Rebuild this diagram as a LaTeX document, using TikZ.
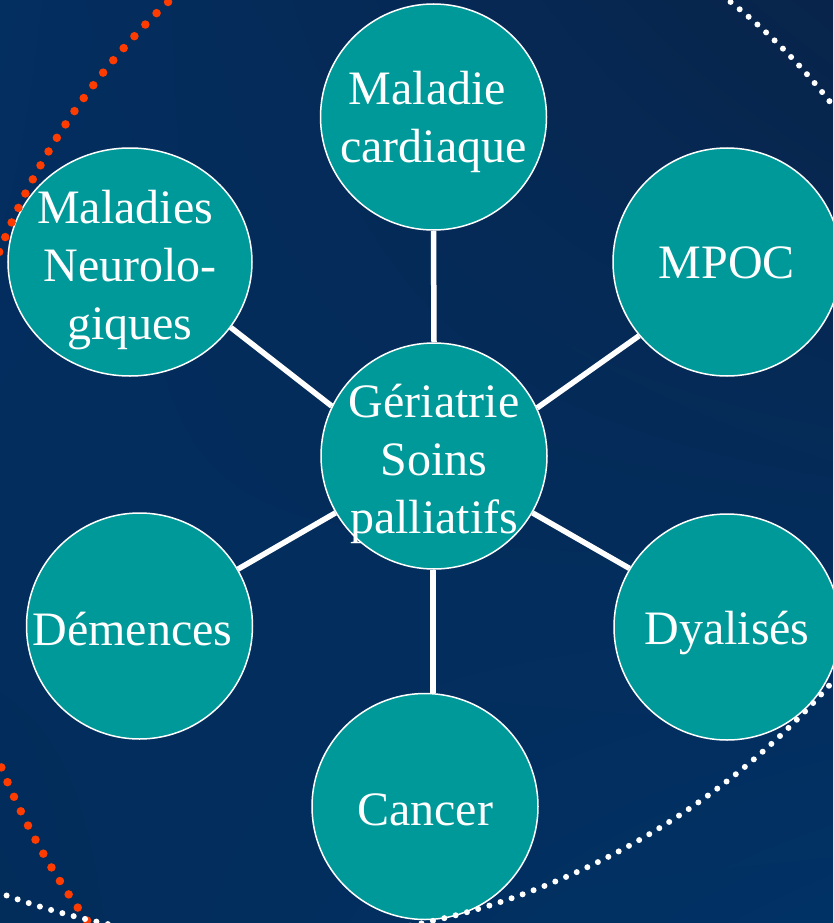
\documentclass[tikz,border=0pt]{standalone}
\usepackage{fontspec}
\setmainfont{Liberation Serif}
\usetikzlibrary{shapes.geometric,shadings}
\definecolor{tealfill}{HTML}{009999}
\definecolor{bgUL}{HTML}{032E60}
\definecolor{bgUR}{HTML}{08244A}
\definecolor{bgLL}{HTML}{022C5A}
\definecolor{bgLR}{HTML}{013266}
\definecolor{dotred}{HTML}{FF3C00}
\pgfdeclarelayer{back}
\pgfdeclarelayer{links}
\pgfsetlayers{back,links,main}
\begin{document}
\begin{tikzpicture}[x=1pt,y=-1pt,
  bubble/.style={circle, draw=white, line width=1.5pt, fill=tealfill, minimum size=226pt, inner sep=0pt},
  txt/.style={text=white, font=\fontsize{48}{58}\selectfont, align=center, inner sep=0pt},
  link/.style={draw=white, line width=5.5pt},
  reddots/.style={draw=dotred, line width=8.5pt, line cap=round, dash pattern=on 0pt off 16pt},
  whitedots/.style={draw=white, line width=6pt, line cap=round, dash pattern=on 0pt off 11.7pt}]
\useasboundingbox (0,0) rectangle (833,923);
\clip (0,0) rectangle (833,923);
\begin{pgfonlayer}{back}
\shade[upper left=bgUL, upper right=bgUR, lower left=bgLL, lower right=bgLR] (0,0) rectangle (833,923);
\end{pgfonlayer}

% bubbles
\node[bubble] (c0) at (434,456) {};
\node[bubble] (c1) at (433.5,117) {};
\node[bubble, minimum size=228pt] (c2) at (727,262) {};
\node[bubble, ellipse, minimum width=244pt, minimum height=228pt] (c3) at (130,262) {};
\node[bubble] (c4) at (139.5,626) {};
\node[bubble] (c5) at (727,627) {};
\node[bubble] (c6) at (425,806.5) {};

% texts
\node[txt] (t0) at (434,464) {Gériatrie\\Soins\\palliatifs};
\node[txt] (t1) at (433.5,122) {Maladie\hspace*{12pt}\\cardiaque};
\node[txt] (t2) at (727,263) {MPOC};
\node[txt] (t3) at (130,270) {Maladies\hspace*{10pt}\\Neurolo-\\giques};
\node[txt] (t4) at (139.5,629) {Démences\hspace*{14pt}};
\node[txt] (t5) at (727,633) {Dyalisés};
\node[txt] (t6) at (425,810) {Cancer};

% connectors
\begin{pgfonlayer}{links}
\draw[link] (c0.north) -- (c1.south);
\draw[link] (c0.25.7) -- (c2.-140);
\draw[link] (c0.154.5) -- (c3.-33);
\draw[link] (c0.210.3) -- (c4.30);
\draw[link] (c0.-30.8) -- (c5.149.6);
\draw[link] (c6.86) -- (c6.86 |- c0.south);
\end{pgfonlayer}

% dotted arcs
\draw[reddots] (647,507) circle[radius=696];
\draw[whitedots] (263,183) circle[radius=757];
\draw[whitedots] (360,470) ++(-55:597) arc[start angle=-55, end angle=-35, radius=597];
\end{tikzpicture}
\end{document}
